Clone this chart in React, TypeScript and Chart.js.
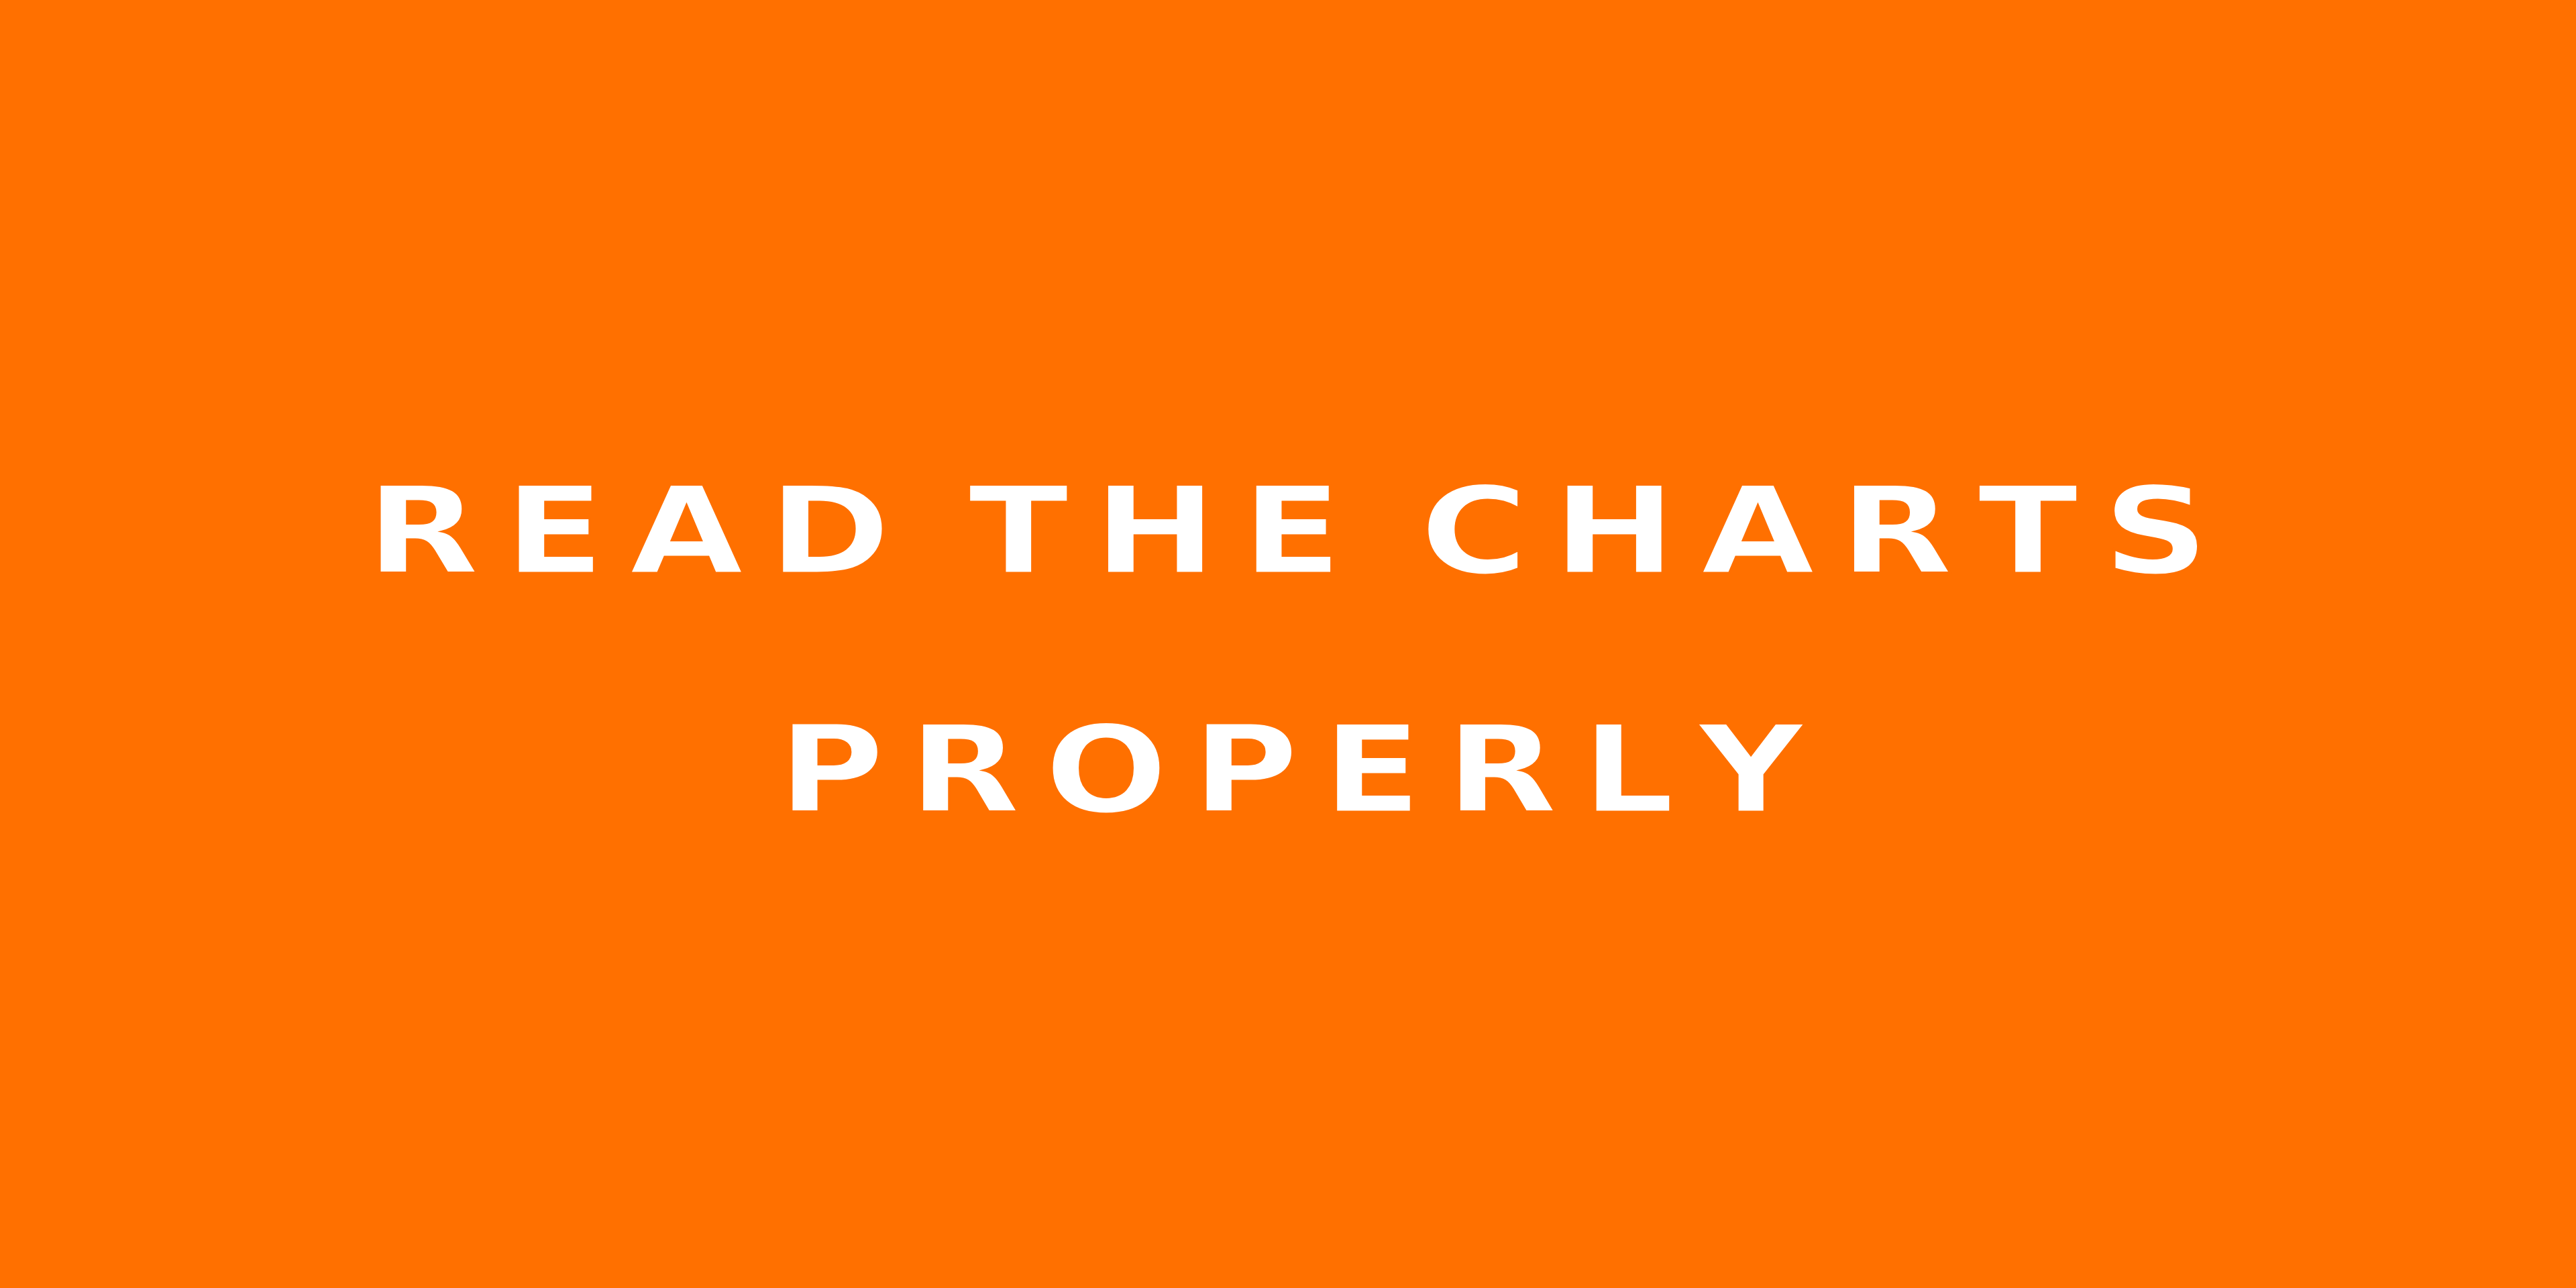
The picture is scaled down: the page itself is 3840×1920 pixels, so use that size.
import { Chart, registerables } from "chart.js";
import { useEffect, useRef } from "react";

Chart.register(...registerables);

// banner text, one entry per line
const titleLines = ["READ THE CHARTS", "PROPERLY"];
// no plotted series in this picture: the chart itself stays empty
const categories: string[] = [];
const values: number[] = [];

const ORANGE = "#ff7000";
const WHITE = "#ffffff";
const W = 3840;
const H = 1920;

type LineSpec = { left: number; right: number; baseline: number };

// ink box of every line, as fractions of the canvas
const lineBoxes: LineSpec[] = [
    { left: 565 / 3840, right: 3277 / 3840, baseline: 854 / 1920 },
    { left: 1179 / 3840, right: 2691 / 3840, baseline: 1210 / 1920 },
];

const bannerPlugin = {
    id: "banner",
    beforeDraw(chart: Chart, _args: unknown, opts: any) {
        const { ctx, width, height } = chart;
        ctx.save();
        ctx.fillStyle = opts.background;
        ctx.fillRect(0, 0, width, height);
        ctx.restore();
    },
    afterDraw(chart: Chart, _args: unknown, opts: any) {
        const { ctx, width, height } = chart;
        const family = opts.family;
        const weight = opts.weight;
        const scaleY = height / 1920; // canvas size vs the 3840x1920 layout

        // cap height of the font at 100px, to size the glyphs
        ctx.save();
        ctx.font = `${weight} 100px ${family}`;
        const capAt100 = ctx.measureText("H").actualBoundingBoxAscent || 72.9;
        ctx.restore();
        const size = (opts.capHeight * scaleY / capAt100) * 100;

        opts.lines.forEach((text: string, i: number) => {
            const box: LineSpec = opts.boxes[i];
            ctx.save();
            ctx.font = `${weight} ${size}px ${family}`;
            ctx.textAlign = "left";
            ctx.textBaseline = "alphabetic";

            // lay the glyphs out by their own advances plus extra spacing
            const ls = opts.letterSpacing * scaleY;
            const ws = opts.wordSpacing * scaleY;
            const chars = Array.from(text);
            let pen = 0;
            let inkStart = NaN;
            let inkEnd = 0;
            const placed: { c: string; x: number }[] = [];
            chars.forEach((c, k) => {
                const m = ctx.measureText(c);
                if (c !== " ") {
                    if (isNaN(inkStart)) inkStart = pen - m.actualBoundingBoxLeft;
                    inkEnd = pen + m.actualBoundingBoxRight;
                    placed.push({ c, x: pen });
                }
                pen += m.width + (k < chars.length - 1 ? ls : 0);
                if (c === " ") pen += ws;
            });

            // stretch the line sideways so it fills its box, like an extended face
            const target = (box.right - box.left) * width;
            const sx = target / (inkEnd - inkStart);
            ctx.translate(box.left * width, box.baseline * height);
            ctx.scale(sx, 1);
            ctx.fillStyle = opts.color;
            placed.forEach(p => ctx.fillText(p.c, p.x - inkStart, 0));
            // thin the bold strokes a little
            ctx.strokeStyle = opts.background;
            ctx.lineWidth = opts.thin * scaleY;
            ctx.lineJoin = "miter";
            placed.forEach(p => ctx.strokeText(p.c, p.x - inkStart, 0));
            ctx.restore();
        });
    },
};

export default function App() {
    const canvasRef = useRef<HTMLCanvasElement | null>(null);
    const chartRef = useRef<Chart | null>(null);

    useEffect(() => {
        if (!canvasRef.current) return;
        if (chartRef.current) chartRef.current.destroy();

        chartRef.current = new Chart(canvasRef.current, {
            type: "bar",
            data: {
                labels: categories,
                datasets: [{ data: values, backgroundColor: WHITE }],
            },
            options: {
                responsive: false, // fixed 3840x1920 canvas, no resize races
                devicePixelRatio: 1,
                animation: false,
                events: [],
                layout: { padding: 0 },
                scales: {
                    x: { display: false },
                    y: { display: false },
                },
                plugins: {
                    legend: { display: false },
                    tooltip: { enabled: false },
                    banner: {
                        background: ORANGE,
                        color: WHITE,
                        family: '"DejaVu Sans"',
                        weight: "bold",
                        capHeight: 132,
                        letterSpacing: 30,
                        wordSpacing: -28,
                        thin: 3,
                        lines: titleLines,
                        boxes: lineBoxes,
                    },
                } as any,
            },
            plugins: [bannerPlugin],
        });

        return () => {
            if (chartRef.current) chartRef.current.destroy();
            chartRef.current = null;
        };
    }, []);

    return (
        <div style={{ position: "fixed", left: 0, top: 0, width: W, height: H, background: ORANGE }}>
            <canvas ref={canvasRef} width={W} height={H} style={{ display: "block", width: W, height: H }} />
        </div>
    );
}
